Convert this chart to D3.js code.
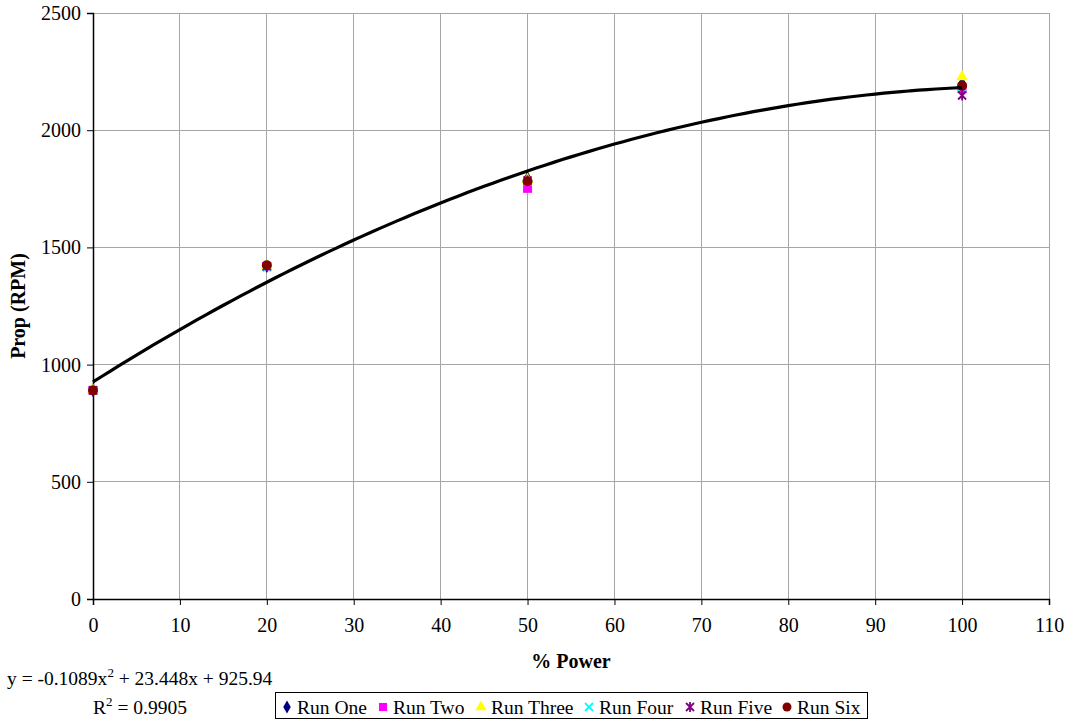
<!DOCTYPE html>
<html>
<head>
<meta charset="utf-8">
<script src="https://cdn.jsdelivr.net/npm/d3@7"></script>
<style>
  body { margin: 0; background: #fff; }
  svg text { font-family: "Liberation Serif", "Times New Roman", serif !important; fill: #000; }
</style>
</head>
<body>
<svg id="chart" width="1070" height="719"></svg>
<script>
// Percent power settings tested
const powerLevels = [0, 20, 50, 100];

// Prop RPM per run at each power level
const runOne   = [890, 1420, 1795, 2200];
const runTwo   = [890, 1418, 1752, 2178];
const runThree = [890, 1422, 1790, 2228];
const runFour  = [890, 1415, 1782, 2185];
const runFive  = [890, 1420, 1786, 2148];
const runSix   = [890, 1424, 1782, 2190];

const seriesNames = ["Run One", "Run Two", "Run Three", "Run Four", "Run Five", "Run Six"];
const seriesValues = [runOne, runTwo, runThree, runFour, runFive, runSix];
const seriesColors = ["#000080", "#ff00ff", "#ffff00", "#00ffff", "#800080", "#800000"];
const seriesShapes = ["diamond", "square", "triangle", "x", "star", "circle"];

// Quadratic trend fit coefficients
const fitA = -0.1089, fitB = 23.448, fitC = 925.94;
const fitR2 = 0.9905;

const xTicks = d3.range(0, 111, 10);
const yTicks = d3.range(0, 2501, 500);

const svg = d3.select("#chart");
const margin = { left: 93, right: 21, top: 13, bottom: 120 };
const W = 1070, H = 719;

const x = d3.scaleLinear().domain([0, 110]).range([margin.left, W - margin.right]);
const y = d3.scaleLinear().domain([0, 2500]).range([H - margin.bottom, margin.top]);

// Gridlines
svg.append("g").selectAll("line.h").data(yTicks.filter(d => d > 0)).join("line")
  .attr("x1", x(0)).attr("x2", x(110))
  .attr("y1", d => y(d)).attr("y2", d => y(d))
  .attr("stroke", "#a6a6a6").attr("stroke-width", 1).attr("shape-rendering", "crispEdges");
svg.append("g").selectAll("line.v").data(xTicks.filter(d => d > 0)).join("line")
  .attr("x1", d => x(d)).attr("x2", d => x(d))
  .attr("y1", y(0)).attr("y2", y(2500))
  .attr("stroke", "#a6a6a6").attr("stroke-width", 1).attr("shape-rendering", "crispEdges");

// Axes
const xAxis = d3.axisBottom(x).tickValues(xTicks).tickFormat(d3.format("d")).tickSize(6).tickPadding(13);
const yAxis = d3.axisLeft(y).tickValues(yTicks).tickFormat(d3.format("d")).tickSize(6).tickPadding(6);

const gx = svg.append("g").attr("transform", `translate(0,${y(0)})`).call(xAxis);
const gy = svg.append("g").attr("transform", `translate(${x(0)},0)`).call(yAxis);
[gx, gy].forEach(g => {
  g.attr("font-family", null);
  g.select(".domain").attr("stroke", "#000").attr("stroke-width", 1.5);
  g.selectAll(".tick line").attr("stroke", "#000");
  g.selectAll(".tick text").attr("font-size", 20);
});
gx.selectAll(".tick text").attr("dy", "0.71em");

// Axis titles
svg.append("text").attr("x", (x(0) + x(110)) / 2).attr("y", 668)
  .attr("text-anchor", "middle").attr("font-size", 20).attr("font-weight", "bold")
  .text("% Power");
svg.append("text")
  .attr("transform", `translate(25,${(y(0) + y(2500)) / 2}) rotate(-90)`)
  .attr("text-anchor", "middle").attr("font-size", 20).attr("font-weight", "bold")
  .text("Prop (RPM)");

// Marker drawing
function drawMarker(g, shape, color, cx, cy, s) {
  const sz = s || 1;
  switch (shape) {
    case "diamond":
      g.append("path").attr("d", d3.symbol(d3.symbolDiamond, 55 * sz)())
        .attr("transform", `translate(${cx},${cy})`).attr("fill", color);
      break;
    case "square":
      g.append("rect").attr("x", cx - 4.5 * sz).attr("y", cy - 4.5 * sz)
        .attr("width", 9 * sz).attr("height", 9 * sz).attr("fill", color);
      break;
    case "triangle":
      g.append("path").attr("d", d3.symbol(d3.symbolTriangle, 60 * sz)())
        .attr("transform", `translate(${cx},${cy})`).attr("fill", color);
      break;
    case "x":
      g.append("path").attr("d", `M${cx - 4},${cy - 4}L${cx + 4},${cy + 4}M${cx - 4},${cy + 4}L${cx + 4},${cy - 4}`)
        .attr("stroke", color).attr("stroke-width", 1.8).attr("fill", "none");
      break;
    case "star":
      g.append("path").attr("d", `M${cx - 4},${cy - 4}L${cx + 4},${cy + 4}M${cx - 4},${cy + 4}L${cx + 4},${cy - 4}M${cx},${cy - 5}L${cx},${cy + 5}`)
        .attr("stroke", color).attr("stroke-width", 1.8).attr("fill", "none");
      break;
    case "circle":
      g.append("circle").attr("cx", cx).attr("cy", cy).attr("r", 5 * sz).attr("fill", color);
      break;
  }
}

// Data points
const pts = svg.append("g");
seriesValues.forEach((vals, i) => {
  vals.forEach((v, j) => {
    drawMarker(pts, seriesShapes[i], seriesColors[i], x(powerLevels[j]), y(v));
  });
});

// Polynomial trendline
const fitX = d3.range(0, 100.01, 1);
const line = d3.line().x(d => x(d)).y(d => y(fitA * d * d + fitB * d + fitC)).curve(d3.curveMonotoneX);
svg.append("path").datum(fitX).attr("d", line)
  .attr("fill", "none").attr("stroke", "#000").attr("stroke-width", 3.2);

// Trendline equation
const eq = svg.append("text").attr("x", 7).attr("y", 685).attr("font-size", 19.5);
eq.append("tspan").text(`y = ${fitA}x`);
eq.append("tspan").attr("dy", -8).attr("font-size", 13).text("2");
eq.append("tspan").attr("dy", 8).text(` + ${fitB}x + ${fitC}`);
const r2 = svg.append("text").attr("x", 93).attr("y", 714).attr("font-size", 19.5);
r2.append("tspan").text("R");
r2.append("tspan").attr("dy", -8).attr("font-size", 13).text("2");
r2.append("tspan").attr("dy", 8).text(` = ${fitR2}`);

// Legend
const legend = svg.append("g");
legend.append("rect").attr("x", 275.5).attr("y", 692.5).attr("width", 592).attr("height", 26)
  .attr("fill", "#fff").attr("stroke", "#000").attr("stroke-width", 1);
const legendX = [287, 383, 481, 589, 690, 787];
seriesNames.forEach((name, i) => {
  drawMarker(legend, seriesShapes[i], seriesColors[i], legendX[i], 707, 0.9);
  legend.append("text").attr("x", legendX[i] + 10).attr("y", 714).attr("font-size", 19.5).text(name);
});
</script>
</body>
</html>
